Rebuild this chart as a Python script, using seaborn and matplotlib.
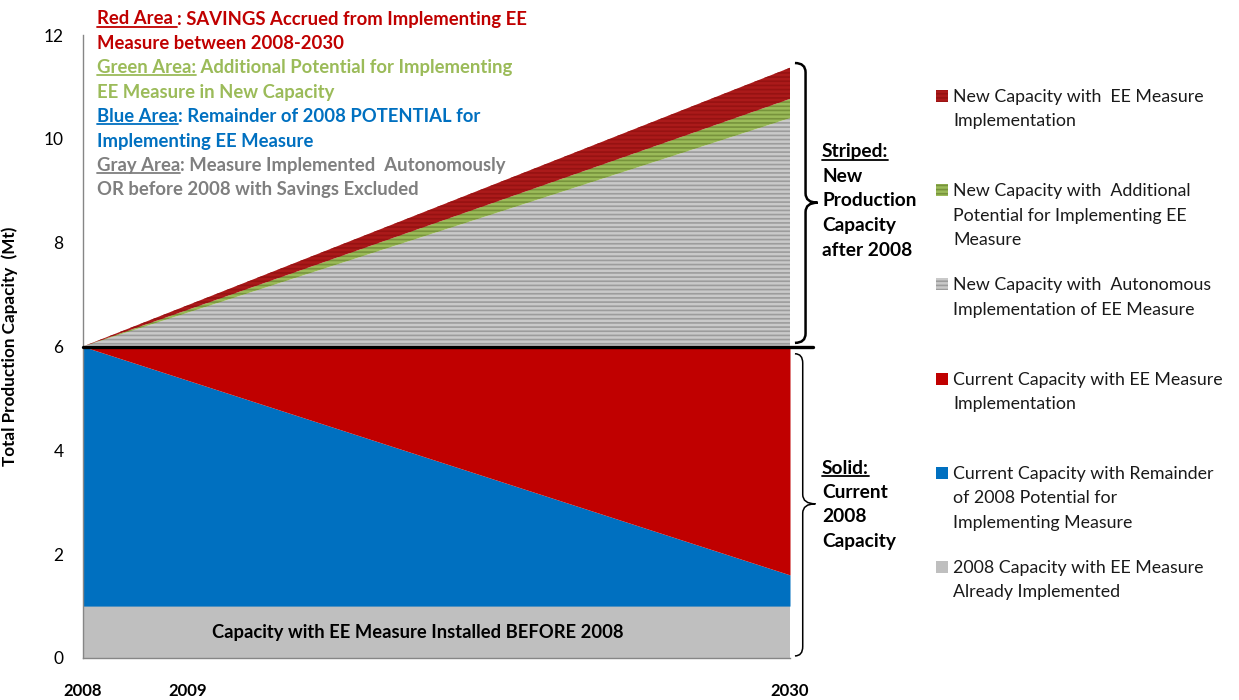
import matplotlib.pyplot as plt
import matplotlib.transforms as mtransforms
from matplotlib.patches import Rectangle, PathPatch
from matplotlib.path import Path
from matplotlib.lines import Line2D
import seaborn as sns

sns.set_theme(style="white")
plt.rcParams['font.family'] = ['Lato', 'DejaVu Sans']
plt.rcParams['hatch.linewidth'] = 1.2

# data (Mt), two end points of each linear layer
years = [2008, 2030]
pre2008_done = [1.0, 1.0]
current_remaining = [5.0, 0.6]
current_ee = [0.0, 4.4]
new_autonomous = [0.0, 4.4]
new_additional = [0.0, 0.37]
new_ee = [0.0, 0.6]

layer_names = ["2008 Capacity with EE Measure\nAlready Implemented",
               "Current Capacity with Remainder\nof 2008 Potential for\nImplementing Measure",
               "Current Capacity with EE Measure\nImplementation",
               "New Capacity with  Autonomous\nImplementation of EE Measure",
               "New Capacity with  Additional\nPotential for Implementing EE\nMeasure",
               "New Capacity with  EE Measure\nImplementation"]
face_cols = ['#bfbfbf', '#0070c0', '#c00000', '#c9c9c9', '#9bbb59', '#ab1a1a']
hatch_cols = [None, None, None, '#9c9c9c', '#77933c', '#961212']

x_tick_pos = [2008, 2011.25, 2030]
x_tick_labels = ['2008', '2009', '2030']
y_ticks = [0, 2, 4, 6, 8, 10, 12]

W, H = 1239, 700
def fx(x):  # pixel -> figure fraction
    return x / W
def fy(y):
    return 1 - y / H

fig = plt.figure(figsize=(12.39, 7), dpi=100)
ax = fig.add_axes([fx(83), fy(658), (790 - 83) / W, (658 - 35) / H])

layers = [pre2008_done, current_remaining, current_ee, new_autonomous, new_additional, new_ee]
polys = ax.stackplot(years, *layers, colors=face_cols, linewidth=0)
for p, hc in zip(polys, hatch_cols):
    if hc:
        p.set_hatch('----')
        p.set_edgecolor(hc)
        p.set_linewidth(0)

ax.axhline(6, xmin=0, xmax=1.032, color='black', lw=2.4, clip_on=False, zorder=5)

ax.set_xlim(2008, 2030)
ax.set_ylim(0, 12)
ax.set_yticks(y_ticks)
ax.set_yticklabels([str(v) for v in y_ticks], fontsize=12.5)
ax.set_xticks(x_tick_pos)
ax.set_xticklabels(x_tick_labels, fontsize=12, fontweight='bold')
ax.tick_params(axis='both', length=0, colors='black')
ax.tick_params(axis='y', pad=14)
ax.tick_params(axis='x', pad=18)
for s in ['top', 'right']:
    ax.spines[s].set_visible(False)
for s in ['left', 'bottom']:
    ax.spines[s].set_color('#868686')
    ax.spines[s].set_linewidth(1)
ax.set_ylabel('Total Production Capacity  (Mt)', fontsize=12.3, fontweight='bold', color='black')
ax.yaxis.set_label_coords(-0.092, 0.5)

blend = mtransforms.blended_transform_factory(ax.transAxes, ax.transData)
ax.text(0.474, 0.5, 'Capacity with EE Measure Installed BEFORE 2008', transform=blend,
        ha='center', va='center', fontsize=13.2, fontweight='bold', color='black')

# braces on the right of the plot
def brace(x0, x1, x2, ytop, ybot, ymid, lw):
    r = 0.18
    verts = [(x0, ytop), (x1, ytop), (x1, ytop - r), (x1, ymid + r), (x1, ymid), (x2, ymid),
             (x1, ymid), (x1, ymid - r), (x1, ybot + r), (x1, ybot), (x0, ybot)]
    codes = [Path.MOVETO, Path.CURVE3, Path.CURVE3, Path.LINETO, Path.CURVE3, Path.CURVE3,
             Path.CURVE3, Path.CURVE3, Path.LINETO, Path.CURVE3, Path.CURVE3]
    ax.add_patch(PathPatch(Path(verts, codes), fill=False, lw=lw, color='black',
                           transform=blend, clip_on=False))

brace(1.007, 1.022, 1.039, 11.46, 6.07, 8.77, 1.8)
brace(1.007, 1.018, 1.036, 5.86, 0.04, 2.97, 1.1)

renderer = fig.canvas.get_renderer()
underlined = []

side_notes = [(822, 152, ['Striped:', 'New', 'Production', 'Capacity', 'after 2008']),
              (822, 468, ['Solid:', 'Current', '2008', 'Capacity'])]
for x0, y0, lines in side_notes:
    for i, s in enumerate(lines):
        t = fig.text(fx(x0), fy(y0 + i * 24.5), s, ha='left', va='center',
                     fontsize=13.8, fontweight='bold', color='black')
        if i == 0:
            underlined.append((t, 'black'))

# coloured explanation at top left
notes = [('Red Area ', ': SAVINGS Accrued from Implementing EE', '#c00000'),
         (None, 'Measure between 2008-2030', '#c00000'),
         ('Green Area:', ' Additional Potential for Implementing', '#9bbb59'),
         (None, 'EE Measure in New Capacity', '#9bbb59'),
         ('Blue Area', ': Remainder of 2008 POTENTIAL for', '#0070c0'),
         (None, 'Implementing EE Measure', '#0070c0'),
         ('Gray Area', ': Measure Implemented  Autonomously', '#7f7f7f'),
         (None, 'OR before 2008 with Savings Excluded', '#7f7f7f')]
for i, (head, rest, col) in enumerate(notes):
    y = fy(19 + i * 24.4)
    x = fx(97)
    if head:
        t = fig.text(x, y, head, ha='left', va='center', fontsize=13.3,
                     fontweight='bold', color=col)
        underlined.append((t, col))
        bb = t.get_window_extent(renderer=renderer)
        x = fx(bb.x1)
    fig.text(x, y, rest, ha='left', va='center', fontsize=13.3, fontweight='bold', color=col)

# legend drawn by hand, one entry every ~94 px
for i, k in enumerate(range(len(layer_names) - 1, -1, -1)):
    yc = 96 + i * 94.2
    sq = Rectangle((fx(936), fy(yc + 6)), 12 / W, 12 / H, transform=fig.transFigure,
                   facecolor=face_cols[k], edgecolor=hatch_cols[k] or face_cols[k],
                   hatch='----' if hatch_cols[k] else None, lw=0)
    fig.add_artist(sq)
    fig.text(fx(953), fy(yc - 7), layer_names[k], ha='left', va='top',
             fontsize=12.8, color='#1a1a1a', linespacing=1.65)

for t, col in underlined:
    bb = t.get_window_extent(renderer=renderer)
    yl = bb.y0 + 1
    fig.add_artist(Line2D([bb.x0, bb.x1], [yl, yl], color=col, lw=1.3,
                          transform=mtransforms.IdentityTransform()))

fig.savefig('out.png', dpi=100)
